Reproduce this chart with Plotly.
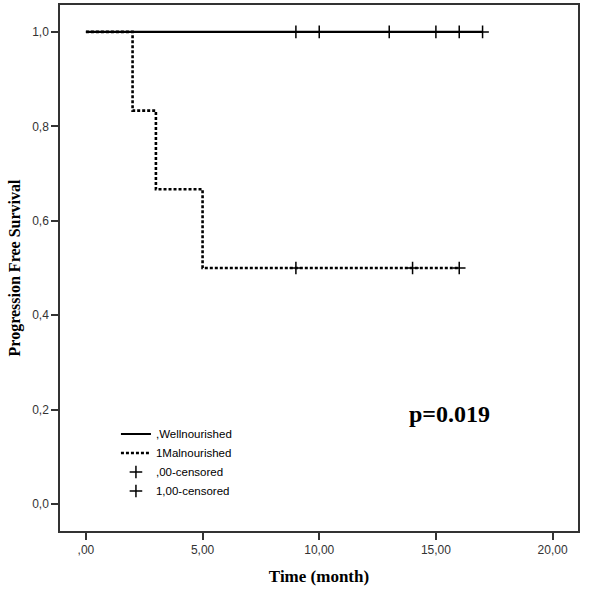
import plotly.graph_objects as go

# Kaplan-Meier step data
well_time = [0, 17]
well_surv = [1.0, 1.0]
well_cens_time = [9, 10, 13, 15, 16, 17]
well_cens_surv = [1.0, 1.0, 1.0, 1.0, 1.0, 1.0]

mal_time = [0, 2, 3, 5, 16]
mal_surv = [1.0, 0.8333, 0.6667, 0.5, 0.5]
mal_cens_time = [9, 14, 16]
mal_cens_surv = [0.5, 0.5, 0.5]

x_tickvals = [0, 5, 10, 15, 20]
x_ticktext = [",00", "5,00", "10,00", "15,00", "20,00"]
y_tickvals = [0, 0.2, 0.4, 0.6, 0.8, 1.0]
y_ticktext = ["0,0", "0,2", "0,4", "0,6", "0,8", "1,0"]

fig = go.Figure()
fig.add_trace(go.Scatter(x=well_time, y=well_surv, mode="lines", name=",Wellnourished",
                         line=dict(color="black", width=2.2, shape="hv")))
fig.add_trace(go.Scatter(x=mal_time, y=mal_surv, mode="lines", name="1Malnourished",
                         line=dict(color="black", width=2.6, shape="hv", dash="3px,2px")))
fig.add_trace(go.Scatter(x=well_cens_time, y=well_cens_surv, mode="markers", name=",00-censored",
                         marker=dict(symbol="cross-thin", size=9, line=dict(color="black", width=1.5))))
fig.add_trace(go.Scatter(x=mal_cens_time, y=mal_cens_surv, mode="markers", name="1,00-censored",
                         marker=dict(symbol="cross-thin", size=9, line=dict(color="black", width=1.5))))

fig.add_annotation(x=15.6, y=0.19, xref="x", yref="y", text="<b>p=0.019</b>", showarrow=False,
                   font=dict(family="Liberation Serif", size=24, color="black"))

fig.update_layout(
    width=590, height=590,
    margin=dict(l=60, r=12, t=3, b=59),
    plot_bgcolor="white", paper_bgcolor="white",
    showlegend=True,
    legend=dict(x=0.108, y=0.212, xanchor="left", yanchor="top", bgcolor="rgba(0,0,0,0)",
                font=dict(family="Liberation Sans", size=11.5, color="black"),
                itemwidth=30, tracegroupgap=0),
    xaxis=dict(range=[-1.11, 21.09], tickvals=x_tickvals, ticktext=x_ticktext,
               showgrid=False, zeroline=False, showline=True, linecolor="#333", linewidth=1.5,
               mirror=True, ticks="outside", ticklen=7, tickcolor="#333", tickwidth=1.5,
               tickfont=dict(family="Liberation Sans", size=12, color="#333"),
               title=dict(text="<b>Time (month)</b>", font=dict(family="Liberation Serif", size=17, color="black"),
                          standoff=14)),
    yaxis=dict(range=[-0.057, 1.057], tickvals=y_tickvals, ticktext=y_ticktext,
               showgrid=False, zeroline=False, showline=True, linecolor="#333", linewidth=1.5,
               mirror=True, ticks="outside", ticklen=7, tickcolor="#333", tickwidth=1.5,
               tickfont=dict(family="Liberation Sans", size=12, color="#333"),
               title=dict(text="<b>Progression Free Survival</b>", font=dict(family="Liberation Serif", size=16, color="black"),
                          standoff=8)),
)

fig.write_html("out.html")
